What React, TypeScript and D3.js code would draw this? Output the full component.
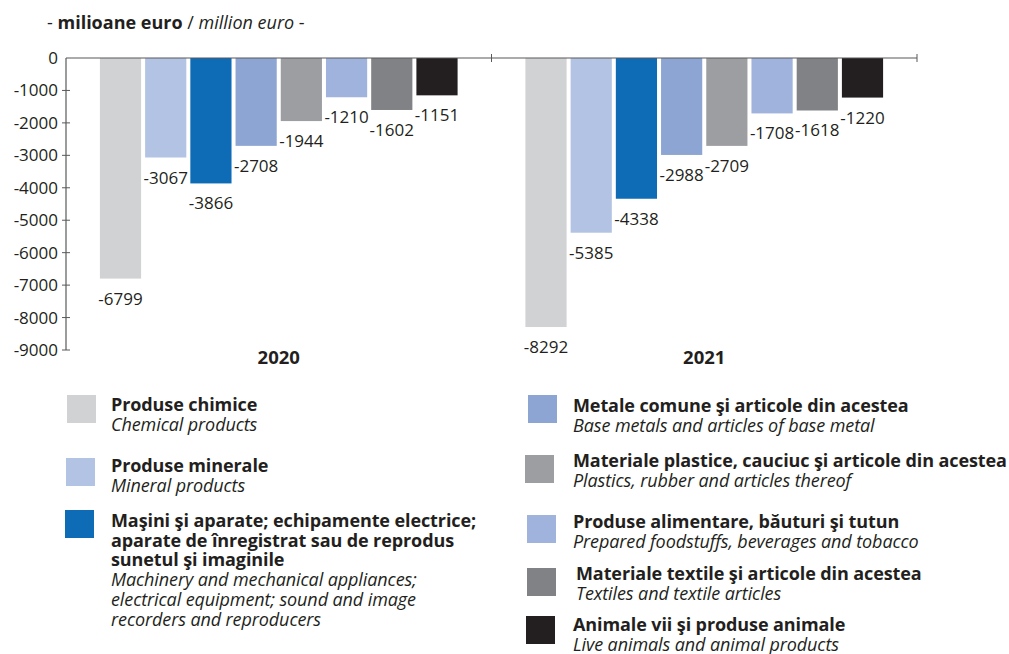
import React from "react";
import * as d3 from "d3";

const years = ["2020", "2021"];
const categoriesRo: string[][] = [
  ["Produse chimice"],
  ["Produse minerale"],
  ["Maşini şi aparate; echipamente electrice;", "aparate de înregistrat sau de reprodus", "sunetul şi imaginile"],
  ["Metale comune şi articole din acestea"],
  ["Materiale plastice, cauciuc şi articole din acestea"],
  ["Produse alimentare, băuturi şi tutun"],
  ["Materiale textile şi articole din acestea"],
  ["Animale vii şi produse animale"],
];
const categoriesEn: string[][] = [
  ["Chemical products"],
  ["Mineral products"],
  ["Machinery and mechanical appliances;", "electrical equipment; sound and image", "recorders and reproducers"],
  ["Base metals and articles of base metal"],
  ["Plastics, rubber and articles thereof"],
  ["Prepared foodstuffs, beverages and tobacco"],
  ["Textiles and textile articles"],
  ["Live animals and animal products"],
];
const values2020 = [-6799, -3067, -3866, -2708, -1944, -1210, -1602, -1151];
const values2021 = [-8292, -5385, -4338, -2988, -2709, -1708, -1618, -1220];
const yTicks = [0, -1000, -2000, -3000, -4000, -5000, -6000, -7000, -8000, -9000];

const colors = ["#d1d2d4", "#b3c3e3", "#0e6bb5", "#8ca5d3", "#9d9ea2", "#9fb3dc", "#818286", "#231f20"];

const legendLayout = [
  { sx: 67, sy: 395, tx: 111, ty: 411 },
  { sx: 66, sy: 458, tx: 111, ty: 472 },
  { sx: 65, sy: 510, tx: 111, ty: 527 },
  { sx: 528, sy: 395, tx: 573, ty: 412 },
  { sx: 525, sy: 455, tx: 573, ty: 467 },
  { sx: 527, sy: 515, tx: 573, ty: 528 },
  { sx: 527, sy: 568, tx: 576, ty: 580 },
  { sx: 526, sy: 616, tx: 573, ty: 631 },
];

const FONT = "'Open Sans', 'Noto Sans', sans-serif";
const TEXT = "#231f20";
const AXIS = "#58595b";

export default function App() {
  const series = [values2020, values2021];
  const x = d3.scaleBand<string>().domain(years).range([66, 917]);
  const inner = d3
    .scaleBand<number>()
    .domain(d3.range(values2020.length))
    .range([0, x.bandwidth()])
    .paddingInner(0.089)
    .paddingOuter(0.75);
  const y = d3.scaleLinear().domain([0, -9000]).range([58, 350]);
  const lh = 19.6;

  return (
    <svg
      width={1009}
      height={654}
      style={{ position: "absolute", left: 0, top: 0, background: "#fff" }}
      fontFamily={FONT}
    >
      {/* title */}
      <text x={47} y={29} fontSize={18} fill={TEXT}>
        <tspan>- </tspan>
        <tspan fontWeight="bold">milioane euro</tspan>
        <tspan> / </tspan>
        <tspan fontStyle="italic">million euro</tspan>
        <tspan> -</tspan>
      </text>

      {/* bars */}
      {years.map((yr, gi) => (
        <g key={yr} transform={`translate(${x(yr)},0)`}>
          {series[gi].map((v, i) => (
            <g key={i}>
              <rect
                x={inner(i)}
                y={y(0)}
                width={inner.bandwidth()}
                height={y(v) - y(0)}
                fill={colors[i]}
              />
              <text
                x={(inner(i) as number) + inner.bandwidth() / 2}
                y={y(v) + 26}
                fontSize={17}
                textAnchor="middle"
                fill={TEXT}
              >
                {v}
              </text>
            </g>
          ))}
          <text
            x={x.bandwidth() / 2}
            y={364}
            fontSize={18.5}
            fontWeight="bold"
            textAnchor="middle"
            fill={TEXT}
          >
            {yr}
          </text>
        </g>
      ))}

      {/* y axis */}
      <line x1={66} x2={66} y1={y(0)} y2={y(-9000)} stroke={AXIS} strokeWidth={1.2} />
      {yTicks.map((t) => (
        <g key={t}>
          {t !== 0 && <line x1={62} x2={70} y1={y(t)} y2={y(t)} stroke={AXIS} strokeWidth={1} />}
          <text x={58} y={y(t)} dy="0.35em" fontSize={17} textAnchor="end" fill={TEXT}>
            {t}
          </text>
        </g>
      ))}
      {/* x axis */}
      <line x1={66} x2={917} y1={y(0)} y2={y(0)} stroke={AXIS} strokeWidth={1.2} />
      {years.map((yr) => (
        <line
          key={yr}
          x1={(x(yr) as number) + x.bandwidth()}
          x2={(x(yr) as number) + x.bandwidth()}
          y1={y(0) - 4}
          y2={y(0) + 4}
          stroke={AXIS}
          strokeWidth={1}
        />
      ))}

      {/* legend */}
      {categoriesRo.map((ro, i) => {
        const L = legendLayout[i];
        const en = categoriesEn[i];
        return (
          <g key={i}>
            <rect x={L.sx} y={L.sy} width={29} height={28} fill={colors[i]} />
            <text x={L.tx} y={L.ty} fontSize={18} fill={TEXT} letterSpacing={-0.1}>
              {ro.map((line, k) => (
                <tspan key={"r" + k} x={L.tx} dy={k === 0 ? 0 : lh} fontWeight="bold">
                  {line}
                </tspan>
              ))}
              {en.map((line, k) => (
                <tspan key={"e" + k} x={L.tx} dy={k === 0 ? lh + 0.5 : lh} fontStyle="italic">
                  {line}
                </tspan>
              ))}
            </text>
          </g>
        );
      })}
    </svg>
  );
}
